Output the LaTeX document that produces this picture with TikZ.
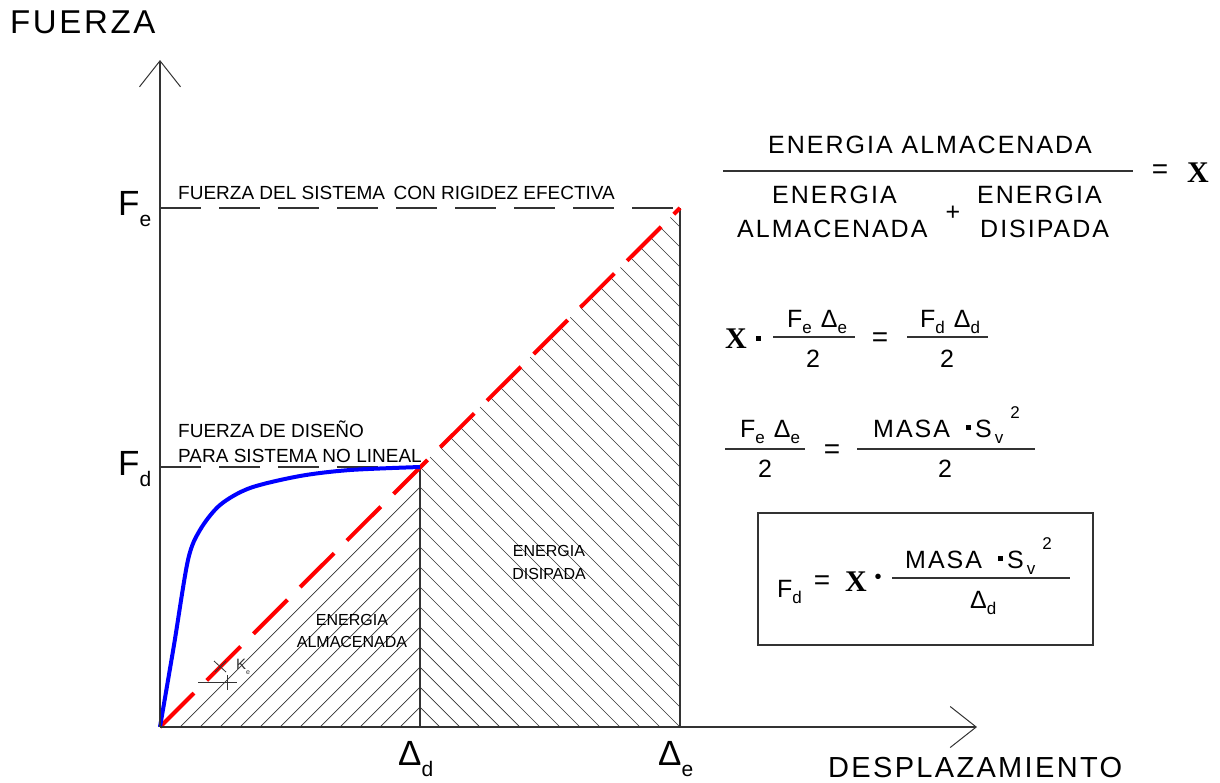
\documentclass[tikz,border=0pt]{standalone}
\usepackage{fontspec}
\setmainfont{Liberation Sans}
\newfontfamily\widesans{Liberation Sans}[LetterSpace=8]
\newfontfamily\serifx{Liberation Serif}
\usetikzlibrary{arrows.meta}
\definecolor{axisgray}{HTML}{333333}
\newcommand{\idx}[1]{\raisebox{-0.25em}{\fontsize{17}{17}\selectfont #1}}
\newcommand{\bidx}[1]{\raisebox{-0.34em}{\fontsize{21}{21}\selectfont #1}}
\newcommand{\sqdot}{\raisebox{0.28em}{\rule{5pt}{5pt}}}
\tikzset{
    axisline/.style={draw=axisgray, line width=1.5pt},
    axisarrow/.style={-{Straight Barb[length=26pt, width=41pt, line width=1pt]}},
    refdash/.style={draw=axisgray, line width=1.2pt, dash pattern=on 41pt off 18pt},
    hatch/.style={draw=axisgray, line width=0.7pt},
    fracbar/.style={draw=axisgray, line width=1.8pt},
    txt/.style={inner sep=0pt, anchor=base west},
    small/.style={txt, font=\fontsize{19}{19}\selectfont},
    zone/.style={inner sep=0pt, font=\fontsize{16}{16}\selectfont},
    eq/.style={txt, font=\widesans\fontsize{25}{25}\selectfont},
    eqsign/.style={inner sep=0pt, font=\fontsize{28}{28}\selectfont},
    big/.style={txt, font=\fontsize{35}{35}\selectfont},
    xsym/.style={txt, font=\serifx\bfseries\fontsize{30}{30}\selectfont}
}

\begin{document}
\begin{tikzpicture}[x=1pt, y=-1pt]
    \useasboundingbox (0,0) rectangle (1220,782);

    % key points of the diagram
    \coordinate (o) at (160,727);
    \coordinate (ytip) at (160,60);
    \coordinate (xtip) at (977,727);
    \coordinate (fe) at (160,208);
    \coordinate (fd) at (160,467);
    \coordinate (pe) at (680,208);
    \coordinate (pd) at (420,467);
    \coordinate (be) at (680,727);
    \coordinate (bd) at (420,727);

    % hatching
    \begin{scope}
        \clip (o) -- (pd) -- (bd) -- cycle;
        \foreach \s in {20,40,...,260}
            \draw[hatch] (160+\s,727) -- ++(300,-300);
    \end{scope}
    \begin{scope}
        \clip (pd) -- (pe) -- (be) -- (bd) -- cycle;
        \foreach \s in {0,20,...,800}
            \draw[hatch] (420+\s,727) -- ++(-560,-560);
    \end{scope}

    % reference levels and limits
    \draw[refdash] (fe) -- (pe);
    \draw[refdash] (fd) -- (pd);
    \draw[axisline] (be) -- (pe);
    \draw[axisline] (bd) -- (pd);

    % curves
    \draw[red, line width=4pt, dash pattern=on 48pt off 18pt] (o) -- (pe);
    \draw[blue, line width=4pt, line join=round] plot[smooth, tension=0.5] coordinates
        {(160,727) (174,645) (188,560) (200,530) (220,505) (250,488) (300,476) (350,470) (420,467)};

    % axes
    \draw[axisline, axisarrow] (o) -- (ytip);
    \draw[axisline, axisarrow] (o) -- (xtip);

    % slope mark
    \draw[axisgray, line width=1pt] (198,682) -- (237,682);
    \draw[axisgray, line width=1pt] (227,675) -- (227,690);
    \draw[axisgray, line width=0.8pt] (214,661) -- (226,672) (226,661) -- (215,672);
    \node[inner sep=0pt, font=\fontsize{15}{15}\selectfont, text=axisgray] (kmark) at (243,667) {K\raisebox{-0.3em}{\fontsize{7}{7}\selectfont e}};

    % axis titles and labels
    \node[txt, font=\widesans\fontsize{33}{33}\selectfont] (ytitle) at (10,33) {FUERZA};
    \node[txt, font=\widesans\fontsize{29}{29}\selectfont] (xtitle) at (828,777) {DESPLAZAMIENTO};
    \node[big] (lfe) at (118,215) {F\bidx{e}};
    \node[big] (lfd) at (118,475) {F\bidx{d}};
    \node[big] (lde) at (658,765) {Δ\bidx{e}};
    \node[big] (ldd) at (398,765) {Δ\bidx{d}};

    \node[small] (tfe) at (178,199) {FUERZA DEL SISTEMA \,CON RIGIDEZ EFECTIVA};
    \node[small] (tfd1) at (178,437) {FUERZA DE DISEÑO};
    \node[small] (tfd2) at (178,462) {PARA SISTEMA NO LINEAL};

    \node[zone] (za1) at (352,620) {ENERGIA};
    \node[zone] (za2) at (352,642) {ALMACENADA};
    \node[zone] (zd1) at (549,551) {ENERGIA};
    \node[zone] (zd2) at (549,574) {DISIPADA};

    % ratio of energies
    \node[eq] (rnum) at (768,153) {ENERGIA ALMACENADA};
    \draw[fracbar] (723,171) -- (1133,171);
    \node[eq] (rden1) at (772,203) {ENERGIA};
    \node[eq] (rden2) at (737,237) {ALMACENADA};
    \node[inner sep=0pt, font=\fontsize{25}{25}\selectfont] (rplus) at (953,213) {+};
    \node[eq] (rden3) at (977,203) {ENERGIA};
    \node[eq] (rden4) at (980,237) {DISIPADA};
    \node[eqsign] (req) at (1160,172) {=};
    \node[xsym] (rx) at (1187,182) {X};

    % first equation
    \node[xsym] (ax) at (725,348) {X};
    \node[inner sep=0pt] (adot) at (758,338) {\rule{5pt}{5pt}};
    \node[eq] (anum1) at (787,327) {F\idx{e} Δ\idx{e}};
    \draw[fracbar] (773,337) -- (855,337);
    \node[eq, anchor=base] (aden1) at (813,367) {2};
    \node[eqsign] (aeq) at (880,340) {=};
    \node[eq] (anum2) at (920,327) {F\idx{d} Δ\idx{d}};
    \draw[fracbar] (907,337) -- (988,337);
    \node[eq, anchor=base] (aden2) at (947,367) {2};

    % second equation
    \node[eq] (bnum1) at (740,437) {F\idx{e} Δ\idx{e}};
    \draw[fracbar] (725,449) -- (805,449);
    \node[eq, anchor=base] (bden1) at (765,477) {2};
    \node[eqsign] (beq) at (832,452) {=};
    \node[eq] (bnum2) at (873,437) {MASA\hspace{16pt}\sqdot\,S\kern3pt\idx{v}\kern7pt\raisebox{0.75em}{\fontsize{17}{17}\selectfont 2}};
    \draw[fracbar] (857,449) -- (1035,449);
    \node[eq, anchor=base] (bden2) at (945,477) {2};

    % design force
    \node[draw=axisgray, line width=1.8pt, minimum width=335pt, minimum height=132pt] (fbox) at (925.5,579) {};
    \node[eq] (cfd) at (777,597) {F\idx{d}};
    \node[eqsign] (ceq) at (822,583) {=};
    \node[xsym] (cx) at (845,591) {X};
    \node[inner sep=0pt, font=\fontsize{20}{20}\selectfont] (cdot) at (878,579) {•};
    \node[eq] (cnum) at (905,568) {MASA\hspace{16pt}\sqdot\,S\kern3pt\idx{v}\kern7pt\raisebox{0.75em}{\fontsize{17}{17}\selectfont 2}};
    \draw[fracbar] (892,578) -- (1070,578);
    \node[eq] (cden) at (970,608) {Δ\idx{d}};
\end{tikzpicture}
\end{document}
